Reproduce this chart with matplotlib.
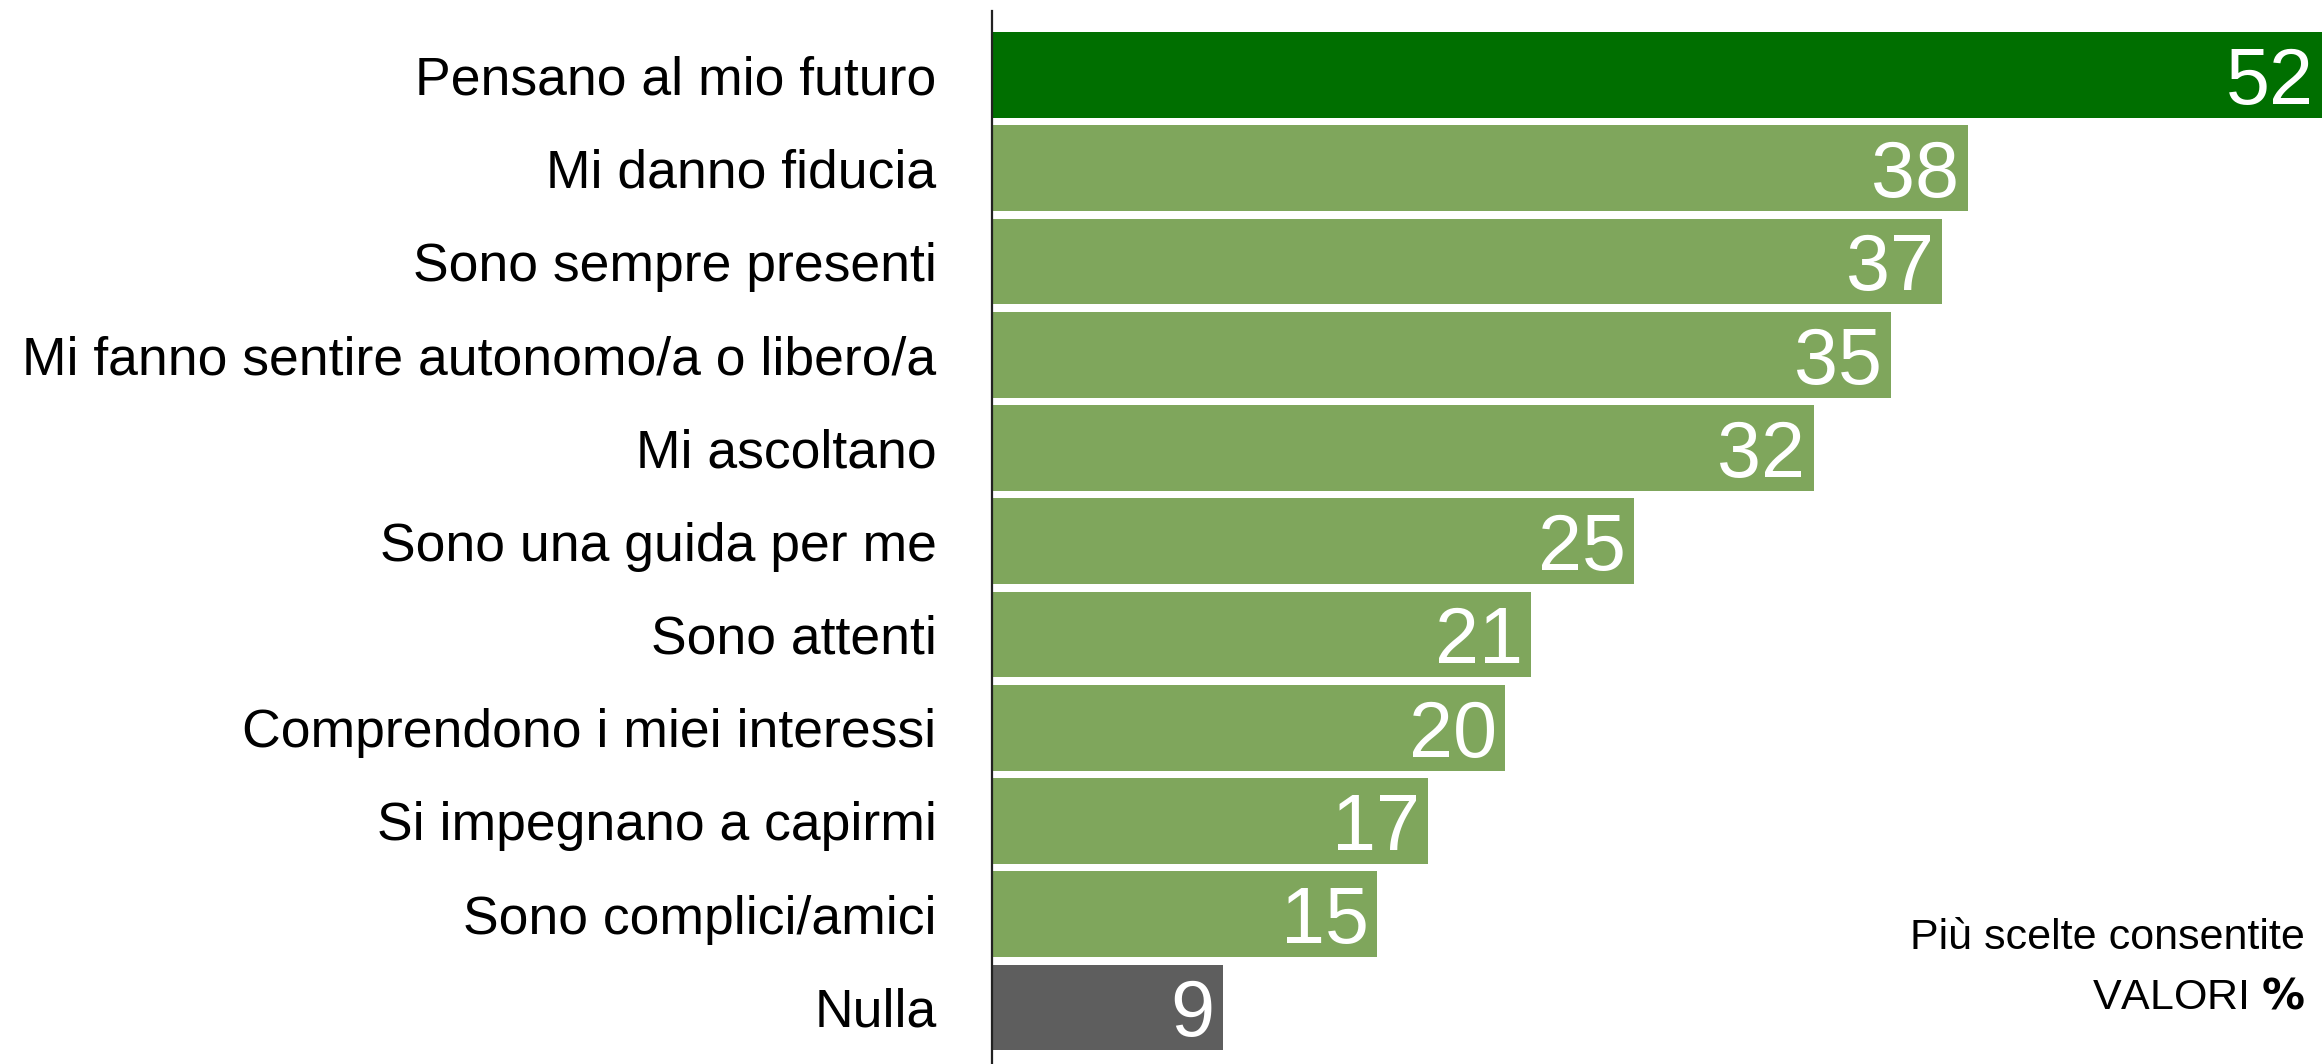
import numpy as np
import matplotlib.pyplot as plt

plt.rcParams['font.family'] = ['Liberation Sans', 'DejaVu Sans']

labels = ["Pensano al mio futuro", "Mi danno fiducia", "Sono sempre presenti",
          "Mi fanno sentire autonomo/a o libero/a", "Mi ascoltano",
          "Sono una guida per me", "Sono attenti", "Comprendono i miei interessi",
          "Si impegnano a capirmi", "Sono complici/amici", "Nulla"]
values = [52, 38, 37, 35, 32, 25, 21, 20, 17, 15, 9]
colors = ["#006f00"] + ["#7fa65c"] * 9 + ["#5e5e5e"]

fig = plt.figure(figsize=(23.22, 10.64), dpi=100)
ax = fig.add_axes([0.4272, 0.0, 0.5728, 0.9897])

y = np.arange(len(labels))
bars = ax.barh(y, values, height=0.92, color=colors)

xmax = 51.8
for b, v in zip(bars, values):
    ax.annotate(str(v), (min(b.get_width(), xmax), b.get_y() + b.get_height() / 2),
                xytext=(-6, 0), textcoords="offset points", annotation_clip=False,
                ha="right", va="center_baseline", color="white", fontsize=57)

ax.set_xlim(0, xmax)
ax.set_ylim(10.606, -0.686)
ax.set_yticks(y)
ax.set_yticklabels(labels, fontsize=38.5)
ax.tick_params(axis="y", length=0, pad=40)
ax.set_xticks([])

for s in ["top", "right", "bottom"]:
    ax.spines[s].set_visible(False)
ax.spines["left"].set_linewidth(1.6)
ax.spines["left"].set_color("#222222")

fig.text(0.9927, 0.108, "Più scelte consentite", ha="right", va="baseline", fontsize=31)
fig.text(0.9927, 0.0526, "VALORI $\\bf{\\%}$", ha="right", va="baseline", fontsize=31)

fig.savefig("out.png", dpi=100)
